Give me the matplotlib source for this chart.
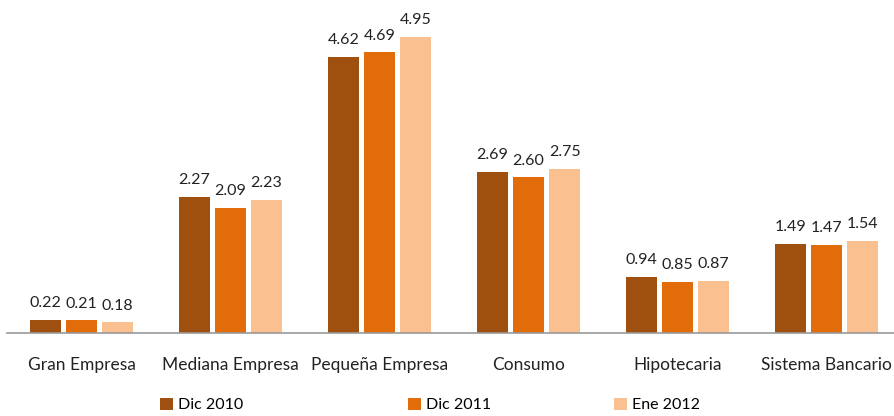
import matplotlib
matplotlib.use("Agg")
import matplotlib.pyplot as plt
import numpy as np

categories = ["Gran Empresa", "Mediana Empresa", "Pequeña Empresa", "Consumo", "Hipotecaria", "Sistema Bancario"]
series_names = ["Dic 2010", "Dic 2011", "Ene 2012"]
dic2010 = [0.22, 2.27, 4.62, 2.69, 0.94, 1.49]
dic2011 = [0.21, 2.09, 4.69, 2.60, 0.85, 1.47]
ene2012 = [0.18, 2.23, 4.95, 2.75, 0.87, 1.54]
colors = ["#A0500E", "#E36C0A", "#FAC090"]

plt.rcParams['font.family'] = ['Lato', 'DejaVu Sans']

W, H = 894, 416
fig = plt.figure(figsize=(W / 100, H / 100), dpi=100)
left_px, right_px = 7, 901
base_px, top_px = 333, 4
ax = fig.add_axes([left_px / W, 1 - base_px / H, (right_px - left_px) / W, (base_px - top_px) / H])

x = np.arange(len(categories))
step = 0.242
width = 0.203
bars = []
for i, (vals, name, c) in enumerate(zip([dic2010, dic2011, ene2012], series_names, colors)):
    b = ax.bar(x + (i - 1) * step, vals, width, color=c, label=name, edgecolor='none')
    bars.append(b)
    for xi, v in zip(x + (i - 1) * step, vals):
        ax.annotate(f"{v:.2f}", (xi, v), xytext=(0, 7), textcoords='offset points',
                    ha='center', va='bottom', fontsize=11.5, color='#222222')

ax.set_xlim(-0.5, len(categories) - 0.5)
ax.set_ylim(0, 5.5)
ax.set_yticks([])
ax.set_xticks(x)
ax.set_xticklabels(categories, fontsize=12.5, color='#222222')
ax.tick_params(axis='x', length=0, pad=17)
for s in ['top', 'right', 'left']:
    ax.spines[s].set_visible(False)
ax.spines['bottom'].set_color('#999999')
ax.spines['bottom'].set_linewidth(1.2)

leg_x = [160, 408, 614]
for b, name, lx in zip(bars, series_names, leg_x):
    fig.legend([b], [name], loc='center left', bbox_to_anchor=(lx / W, 1 - 405 / H),
               frameon=False, fontsize=11.5, handlelength=0.8, handleheight=0.8,
               handletextpad=0.3, borderpad=0, borderaxespad=0)

fig.savefig("out.png", dpi=100)
